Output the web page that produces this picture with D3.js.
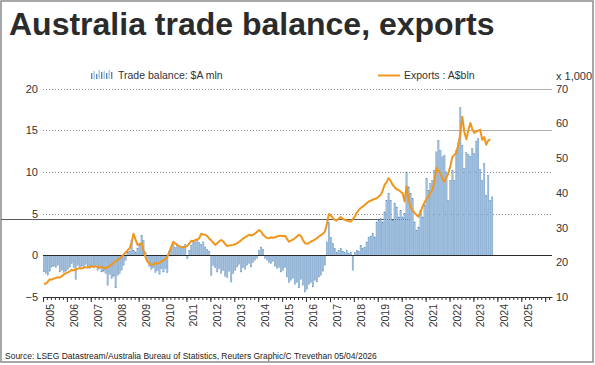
<!DOCTYPE html>
<html>
<head>
<meta charset="utf-8">
<script src="https://cdn.jsdelivr.net/npm/d3@7"></script>
<style>
body{margin:0;background:#fff;}
svg{display:block;font-family:"Liberation Sans",Arial,sans-serif;}
</style>
</head>
<body>
<svg id="chart" width="595" height="365"></svg>
<script>
// monthly, Jan 2005 onwards
var yearLabels = d3.range(2005, 2026);
var leftTicks = [-5, 0, 5, 10, 15, 20];
var rightTicks = [10, 20, 30, 40, 50, 60, 70];

// trade balance, A$ bln (left axis)
var tradeBalance = [
	-2.0, -2.2, -2.4, -1.9, -1.4, -1.3, -1.5, -1.2, -2.0, -1.8, -2.1, -1.9,
	-1.7, -1.4, -1.0, -1.5, -2.9, -1.2, -1.6, -1.3, -1.5, -1.1, -1.3, -1.6,
	-1.3, -1.5, -1.2, -1.8, -1.6, -2.0, -1.9, -2.2, -3.6, -2.3, -2.8, -2.5,
	-3.9, -2.4, -2.2, -1.8, -1.2, -0.6, 0.3, 0.5, 1.8, 0.6, 0.4, 0.8,
	1.2, 2.4, 1.8, 0.4, -0.6, -1.3, -1.7, -1.5, -2.1, -1.8, -2.3, -1.6,
	-2.0, -1.6, -2.1, 0.5, 1.0, 1.3, 0.9, 1.2, 1.0, 0.8, 1.1, 1.3,
	-0.4, 0.6, 1.2, 1.8, 1.6, 1.9, 1.5, 1.3, 1.6, 1.0, 0.7, 0.5,
	-2.4, -1.2, -1.5, -2.0, -1.6, -2.2, -1.8, -2.5, -2.7, -1.9, -3.2, -2.2,
	-1.8, -1.4, -1.1, -2.0, -1.5, -1.7, -1.2, -1.0, -1.4, -0.9, -0.6, -0.4,
	0.6, 1.0, 0.7, -0.4, -0.6, -0.9, -1.0, -0.7, -1.3, -1.6, -1.5, -2.0,
	-1.8, -1.5, -2.6, -3.3, -3.0, -2.8, -3.5, -3.3, -3.9, -2.9, -3.6, -4.4,
	-4.1, -3.5, -3.3, -3.8, -3.0, -3.2, -2.6, -2.4, -1.9, -1.2, 1.6, 3.9,
	2.1, 1.4, 0.8, 0.4, 0.6, 0.8, 0.5, 0.3, 0.6, 0.2, 0.4, -1.8,
	0.3, 0.6, 0.5, 1.2, 0.8, 0.9, 1.6, 2.1, 2.3, 2.6, 2.2, 4.0,
	4.2, 4.4, 4.0, 5.2, 6.6, 7.4, 6.6, 4.2, 6.2, 5.8, 4.6, 5.4,
	4.6, 5.0, 10.0, 8.2, 7.4, 6.8, 4.0, 3.0, 3.4, 5.4, 4.6, 6.0,
	9.2, 7.8, 8.6, 9.0, 10.2, 12.4, 13.8, 12.6, 11.8, 12.0, 10.0, 6.6,
	9.0, 10.2, 9.0, 12.6, 13.4, 17.7, 13.2, 10.4, 12.3, 12.1, 11.9, 12.8,
	12.2, 13.7, 14.0, 10.3, 9.0, 11.0, 7.2, 9.6, 6.6, 7.0
];

// exports, A$ bln (right axis)
var exportsBln = [
	13.7, 13.9, 14.4, 15.1, 15.0, 15.3, 15.5, 15.7, 15.6, 16.0, 16.5, 16.8,
	17.1, 17.4, 17.8, 17.7, 17.9, 18.1, 18.3, 18.2, 18.4, 18.6, 18.5, 18.7,
	18.8, 18.6, 18.9, 18.7, 18.5, 18.6, 18.4, 18.3, 18.6, 18.9, 19.4, 19.8,
	20.3, 20.7, 21.0, 21.6, 22.2, 22.8, 23.4, 24.0, 25.6, 28.2, 26.5, 25.0,
	25.2, 25.5, 23.5, 21.5, 20.2, 19.6, 19.2, 19.4, 19.8, 19.6, 19.9, 20.2,
	20.6, 21.0, 21.6, 23.0, 24.5, 25.9, 25.4, 25.0, 24.6, 24.4, 24.3, 24.5,
	24.7, 25.4, 26.2, 26.0, 26.4, 26.6, 26.9, 28.2, 28.0, 27.9, 27.5, 26.8,
	26.3, 25.6, 25.0, 25.5, 26.0, 26.4, 26.0, 25.2, 24.7, 24.8, 24.9, 25.0,
	25.2, 25.5, 25.9, 26.3, 26.8, 27.2, 27.5, 27.9, 27.7, 27.9, 28.3, 28.8,
	29.3, 28.8, 27.9, 27.4, 27.0, 26.9, 27.2, 27.0, 27.2, 27.4, 27.6, 27.6,
	27.5, 27.6, 26.8, 25.9, 26.2, 26.5, 26.9, 27.4, 27.9, 27.6, 26.4, 25.5,
	25.3, 25.6, 25.9, 26.2, 26.5, 26.9, 27.4, 27.8, 28.2, 28.8, 31.0, 33.9,
	33.4, 32.7, 32.2, 32.0, 32.6, 33.0, 32.5, 32.2, 32.0, 31.8, 31.7, 32.4,
	33.1, 34.3, 35.0, 35.6, 36.0, 36.5, 37.0, 37.5, 37.7, 38.0, 38.2, 38.4,
	38.9, 39.4, 40.5, 42.3, 43.0, 44.2, 43.5, 42.3, 41.6, 41.0, 40.8, 40.3,
	39.9, 37.5, 41.8, 38.0, 36.0, 35.0, 34.2, 33.6, 33.1, 34.5, 36.0, 37.2,
	38.3, 38.9, 40.0, 40.8, 43.2, 47.1, 46.4, 45.6, 44.0, 43.2, 44.5, 45.6,
	47.8, 50.4, 50.9, 51.5, 53.8, 57.0, 61.9, 57.5, 55.4, 58.0, 60.1, 58.3,
	57.2, 57.6, 57.9, 58.1, 55.2, 56.0, 53.8, 55.0, 55.4
];

var legendIcon = [6, 8, 5, 9, 7, 8, 6, 9, 7];

var svg = d3.select('#chart');

var x = d3.scaleTime().domain([new Date(2005, 0, 1), new Date(2026, 3, 15)]).range([43, 552]);
var yL = d3.scaleLinear().domain([-5, 20]).range([297, 88.5]);
var yR = d3.scaleLinear().domain([10, 70]).range([297, 88.5]);

function monthDate(i){ return new Date(2005, i, 15); }

svg.append('rect').attr('x', 1).attr('y', 1).attr('width', 592).attr('height', 361)
	.attr('fill', '#fff').attr('stroke', '#8a8a8a').attr('stroke-width', 1.5);

// gridlines
var grid = svg.append('g');
grid.selectAll('line').data(leftTicks.filter(function(d){ return d > 0; })).enter().append('line')
	.attr('x1', 43).attr('x2', 552)
	.attr('y1', function(d){ return Math.round(yL(d)) + 0.5; })
	.attr('y2', function(d){ return Math.round(yL(d)) + 0.5; })
	.attr('stroke', '#8c8c8c').attr('stroke-dasharray', '1,2');
grid.selectAll('line.solid').data([15, 20]).enter().append('line').attr('class', 'solid')
	.attr('x1', 447).attr('x2', 552)
	.attr('y1', function(d){ return Math.round(yL(d)) + 0.5; })
	.attr('y2', function(d){ return Math.round(yL(d)) + 0.5; })
	.attr('stroke', '#b0b0b0');

// stray rule across the left side
svg.append('line').attr('x1', 1).attr('x2', 411).attr('y1', 219.5).attr('y2', 219.5)
	.attr('stroke', '#5a5a5a');

// bars
svg.append('g').selectAll('rect').data(tradeBalance).enter().append('rect')
	.attr('x', function(d, i){ return x(monthDate(i)) - 0.65; })
	.attr('width', 1.3)
	.attr('y', function(d){ return yL(Math.max(0, d)); })
	.attr('height', function(d){ return Math.abs(yL(d) - yL(0)); })
	.attr('fill', '#a6c3e0')
	.attr('stroke', '#5285b9')
	.attr('stroke-width', 0.35);

svg.append('line').attr('x1', 43).attr('x2', 552)
	.attr('y1', Math.round(yL(0)) + 0.5).attr('y2', Math.round(yL(0)) + 0.5)
	.attr('stroke', '#2a2a2a');

// exports line
var line = d3.line()
	.x(function(d, i){ return x(monthDate(i)); })
	.y(function(d){ return yR(d); });
svg.append('path').datum(exportsBln).attr('d', line)
	.attr('fill', 'none').attr('stroke', '#f0961c').attr('stroke-width', 2)
	.attr('stroke-linejoin', 'round');

// x axis
var xAxisY = 297;
var minor = svg.append('g').attr('transform', 'translate(0,' + xAxisY + ')')
	.call(d3.axisBottom(x).ticks(d3.timeMonth.every(2)).tickSize(3).tickSizeOuter(0).tickFormat(''));
var major = svg.append('g').attr('transform', 'translate(0,' + xAxisY + ')')
	.call(d3.axisBottom(x).ticks(d3.timeYear.every(1)).tickSize(5).tickSizeOuter(0).tickFormat(''));
minor.selectAll('line').attr('stroke', '#333');
major.selectAll('line').attr('stroke', '#333');
minor.select('.domain').attr('stroke', '#333');
major.select('.domain').remove();

svg.append('g').selectAll('text').data(yearLabels).enter().append('text')
	.attr('transform', function(d){ return 'translate(' + (x(new Date(d, 0, 1)) + 11) + ',304) rotate(-90)'; })
	.attr('text-anchor', 'end')
	.attr('font-size', 10.5).attr('fill', '#333')
	.text(function(d){ return d; });

// y axes
var left = svg.append('g').attr('transform', 'translate(43,0)')
	.call(d3.axisLeft(yL).tickValues(leftTicks).tickSize(0).tickPadding(5));
left.select('.domain').remove();
left.selectAll('text').attr('font-size', 11).attr('fill', '#333').attr('font-family', null);

var right = svg.append('g').attr('transform', 'translate(552,0)')
	.call(d3.axisRight(yR).tickValues(rightTicks).tickSize(0).tickPadding(4));
right.select('.domain').remove();
right.selectAll('text').attr('font-size', 11).attr('fill', '#333').attr('font-family', null);

svg.append('text').attr('x', 556).attr('y', 80).attr('font-size', 11).attr('fill', '#333').text('x 1,000');

// title
svg.append('text').attr('x', 9).attr('y', 35)
	.attr('font-size', 32).attr('font-weight', 'bold').attr('fill', '#2b2b2b')
	.text('Australia trade balance, exports');

// legend
svg.append('g').selectAll('rect').data(legendIcon).enter().append('rect')
	.attr('x', function(d, i){ return 91 + i * 2.5; })
	.attr('y', function(d){ return 79 - d; })
	.attr('width', 1.4).attr('height', function(d){ return d; })
	.attr('fill', function(d, i){ return i % 2 ? '#a6c3e0' : '#5a89b8'; });
svg.append('text').attr('x', 118).attr('y', 79).attr('font-size', 10.5).attr('fill', '#333')
	.text('Trade balance: $A mln');
svg.append('line').attr('x1', 378).attr('x2', 400).attr('y1', 75.5).attr('y2', 75.5)
	.attr('stroke', '#f0961c').attr('stroke-width', 2);
svg.append('text').attr('x', 404).attr('y', 79).attr('font-size', 10.5).attr('fill', '#333')
	.text('Exports : A$bln');

svg.append('text').attr('x', 5).attr('y', 359).attr('font-size', 8.5).attr('fill', '#222')
	.text('Source: LSEG Datastream/Australia Bureau of Statistics, Reuters Graphic/C Trevethan 05/04/2026');
</script>
</body>
</html>
